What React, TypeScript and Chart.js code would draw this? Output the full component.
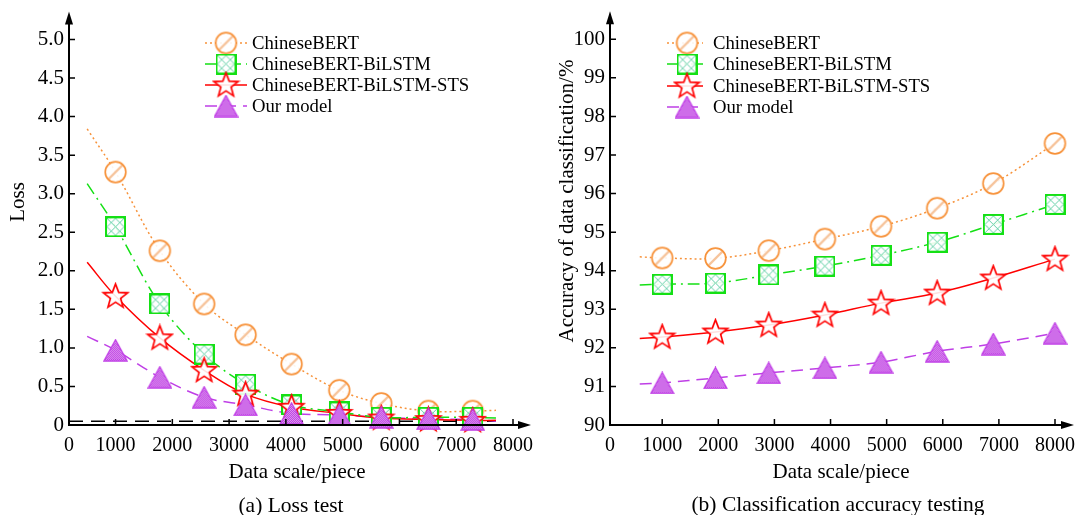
import React, { useEffect, useRef } from 'react';
import { Chart, registerables } from 'chart.js';
Chart.register(...registerables);

// ---------- data ----------
const seriesNames = ['ChineseBERT', 'ChineseBERT-BiLSTM', 'ChineseBERT-BiLSTM-STS', 'Our model'];
const xTickValues = [1000, 2000, 3000, 4000, 5000, 6000, 7000, 8000];

// (a) Loss test
const lossX = [1000, 1780, 2560, 3290, 4100, 4940, 5680, 6510, 7290];
const lossBert = [3.28, 2.26, 1.57, 1.17, 0.79, 0.45, 0.28, 0.18, 0.18];
const lossBiLSTM = [2.57, 1.57, 0.92, 0.53, 0.26, 0.17, 0.1, 0.1, 0.1];
const lossSTS = [1.67, 1.13, 0.71, 0.4, 0.23, 0.15, 0.09, 0.07, 0.06];
const lossOurs = [0.97, 0.62, 0.36, 0.26, 0.15, 0.13, 0.1, 0.08, 0.07];
const lossLineStartX = 500;
const lossLineStart = [3.84, 3.13, 2.11, 1.15];
const lossLineEndX = [7700, 7700, 7700, 7700];
const lossLineEnd = [0.19, 0.09, 0.06, 0.05];
const lossBaselineX = [180, 7700];
const lossBaselineY = [0.05, 0.05];
const lossYTicks = [0, 0.5, 1.0, 1.5, 2.0, 2.5, 3.0, 3.5, 4.0, 4.5, 5.0];

// (b) Classification accuracy testing
const accX = [1000, 1950, 2900, 3900, 4900, 5900, 6900, 8000];
const accBert = [94.33, 94.32, 94.52, 94.82, 95.15, 95.62, 96.26, 97.3];
const accBiLSTM = [93.65, 93.68, 93.89, 94.12, 94.4, 94.74, 95.2, 95.72];
const accSTS = [92.28, 92.41, 92.59, 92.85, 93.16, 93.42, 93.81, 94.3];
const accOurs = [91.09, 91.22, 91.35, 91.48, 91.63, 91.91, 92.1, 92.38];
const accLineStartX = 600;
const accLineStart = [94.36, 93.63, 92.24, 91.06];
const accLineEndX: (number | null)[] = [null, null, 8300, 8250];
const accLineEnd: (number | null)[] = [null, null, 94.42, 92.45];
const accYTicks = [90, 91, 92, 93, 94, 95, 96, 97, 98, 99, 100];

// ---------- styles ----------
const FONT = '"Liberation Serif", "Times New Roman", serif';
const COLORS = ['#f7923a', '#14e014', '#ff0000', '#bf3fe6'];
const DASHES = [[2, 3], [12, 5, 2, 5], [], [12, 7]];

function makeMarker(kind: string): HTMLCanvasElement {
  const c = document.createElement('canvas');
  if (kind === 'circle') {
    c.width = 25; c.height = 25;
    const ctx = c.getContext('2d')!;
    ctx.save();
    ctx.beginPath(); ctx.arc(12.5, 12.5, 10.3, 0, Math.PI * 2);
    ctx.fillStyle = 'rgba(255,255,255,0.9)'; ctx.fill(); ctx.clip();
    ctx.strokeStyle = '#f6c39a'; ctx.lineWidth = 2.4;
    ctx.beginPath(); ctx.moveTo(4, 21); ctx.lineTo(21, 4); ctx.stroke();
    ctx.restore();
    ctx.strokeStyle = COLORS[0]; ctx.lineWidth = 1.7;
    ctx.beginPath(); ctx.arc(12.5, 12.5, 10.3, 0, Math.PI * 2); ctx.stroke();
  } else if (kind === 'square') {
    c.width = 21; c.height = 21;
    const ctx = c.getContext('2d')!;
    ctx.fillStyle = 'rgba(255,255,255,0.9)'; ctx.fillRect(1, 1, 19, 19);
    ctx.strokeStyle = '#62cfa6'; ctx.lineWidth = 1;
    ctx.beginPath();
    ctx.moveTo(10.5, 2); ctx.lineTo(19, 10.5); ctx.lineTo(10.5, 19); ctx.lineTo(2, 10.5); ctx.closePath();
    ctx.moveTo(2, 2); ctx.lineTo(19, 19); ctx.moveTo(19, 2); ctx.lineTo(2, 19);
    ctx.stroke();
    ctx.strokeStyle = COLORS[1]; ctx.lineWidth = 2;
    ctx.strokeRect(1, 1, 19, 19);
  } else if (kind === 'star') {
    c.width = 29; c.height = 29;
    const ctx = c.getContext('2d')!;
    const cx = 14.5, cy = 15, R = 12.8, r = 5.4;
    ctx.beginPath();
    for (let k = 0; k < 10; k++) {
      const ang = -Math.PI / 2 + (k * Math.PI) / 5;
      const rr = k % 2 === 0 ? R : r;
      const px = cx + rr * Math.cos(ang), py = cy + rr * Math.sin(ang);
      if (k === 0) ctx.moveTo(px, py); else ctx.lineTo(px, py);
    }
    ctx.closePath();
    ctx.fillStyle = 'rgba(255,255,255,0.88)'; ctx.fill();
    ctx.strokeStyle = COLORS[2]; ctx.lineWidth = 1.7; ctx.stroke();
  } else {
    c.width = 25; c.height = 23;
    const ctx = c.getContext('2d')!;
    const p = document.createElement('canvas');
    p.width = 2; p.height = 2;
    const pc = p.getContext('2d')!;
    pc.fillStyle = '#e4a6f3'; pc.fillRect(0, 0, 2, 2);
    pc.fillStyle = '#b934e0'; pc.fillRect(0, 0, 1, 1); pc.fillRect(1, 1, 1, 1);
    const pat = ctx.createPattern(p, 'repeat')!;
    ctx.beginPath(); ctx.moveTo(12.5, 1); ctx.lineTo(24, 22); ctx.lineTo(1, 22); ctx.closePath();
    ctx.fillStyle = pat; ctx.fill();
    ctx.strokeStyle = '#c03ee6'; ctx.lineWidth = 1.3; ctx.stroke();
  }
  return c;
}

interface Setup {
  xs: number[];
  series: number[][];
  lineStartX: number;
  lineStart: number[];
  lineEndX: (number | null)[];
  lineEnd: (number | null)[];
  xMin: number;
  xMax: number;
  yMin: number;
  yMax: number;
  yTicks: number[];
  yFmt: (v: number) => string;
  padTop: number;
  padRight: number;
  yWidth: number;
  legend: { line0: number; line1: number; mx: number; tx: number; ys: number[] };
  yTitle: string;
  yTitlePos: [number, number];
  xTitlePos: [number, number];
  caption: string;
  captionPos: [number, number];
  arrowExtra: number;
  extra: any[];
}

function buildConfig(s: Setup, markers: HTMLCanvasElement[]): any {
  const datasets: any[] = [...s.extra];
  s.series.forEach((vals, i) => {
    const pts = s.xs.map((x, j) => ({ x, y: vals[j] }));
    const linePts = [{ x: s.lineStartX, y: s.lineStart[i] }, ...pts];
    const ex = s.lineEndX[i];
    const ey = s.lineEnd[i];
    if (ex != null && ey != null) linePts.push({ x: ex, y: ey });
    datasets.push({
      label: seriesNames[i] + ' fit',
      data: linePts,
      borderColor: COLORS[i],
      borderDash: DASHES[i],
      borderWidth: 1.5,
      pointRadius: 0,
      tension: 0.35,
      fill: false,
      clip: false,
      order: 10 + i,
    });
    datasets.push({
      label: seriesNames[i],
      data: pts,
      showLine: false,
      pointStyle: markers[i],
      pointRadius: 11,
      clip: false,
      order: 3 - i,
    });
  });

  const decor = {
    id: 'decor',
    afterDraw(chart: any) {
      const { ctx, chartArea: a, scales } = chart;
      const xs = scales.x, ys = scales.y;
      ctx.save();
      ctx.strokeStyle = '#000';
      ctx.fillStyle = '#000';
      ctx.lineWidth = 2;
      ctx.setLineDash([]);
      // y axis + arrow
      ctx.beginPath(); ctx.moveTo(a.left, a.bottom + 1); ctx.lineTo(a.left, a.top - 18); ctx.stroke();
      ctx.beginPath(); ctx.moveTo(a.left, a.top - 28); ctx.lineTo(a.left - 4, a.top - 15); ctx.lineTo(a.left + 4, a.top - 15); ctx.closePath(); ctx.fill();
      // x axis + arrow
      ctx.beginPath(); ctx.moveTo(a.left - 1, a.bottom); ctx.lineTo(a.right + s.arrowExtra - 8, a.bottom); ctx.stroke();
      ctx.beginPath(); ctx.moveTo(a.right + s.arrowExtra, a.bottom); ctx.lineTo(a.right + s.arrowExtra - 13, a.bottom - 4); ctx.lineTo(a.right + s.arrowExtra - 13, a.bottom + 4); ctx.closePath(); ctx.fill();
      // tick marks
      ctx.lineWidth = 1.5;
      ctx.beginPath();
      xTickValues.forEach((v) => {
        const px = xs.getPixelForValue(v);
        ctx.moveTo(px, a.bottom); ctx.lineTo(px, a.bottom - 6);
      });
      s.yTicks.forEach((v) => {
        if (v === s.yMin) return;
        const py = ys.getPixelForValue(v);
        ctx.moveTo(a.left, py); ctx.lineTo(a.left + 6, py);
      });
      ctx.stroke();
      // titles
      ctx.fillStyle = '#000';
      ctx.textAlign = 'center';
      ctx.textBaseline = 'middle';
      ctx.font = `21px ${FONT}`;
      ctx.save();
      ctx.translate(s.yTitlePos[0], s.yTitlePos[1]);
      ctx.rotate(-Math.PI / 2);
      ctx.fillText(s.yTitle, 0, 0);
      ctx.restore();
      ctx.fillText('Data scale/piece', s.xTitlePos[0], s.xTitlePos[1]);
      ctx.font = `21.5px ${FONT}`;
      ctx.fillText(s.caption, s.captionPos[0], s.captionPos[1]);
      // legend
      const L = s.legend;
      ctx.textAlign = 'left';
      ctx.font = `18.7px ${FONT}`;
      seriesNames.forEach((name, i) => {
        const y = L.ys[i];
        ctx.strokeStyle = COLORS[i];
        ctx.lineWidth = 1.5;
        ctx.setLineDash(DASHES[i]);
        ctx.beginPath(); ctx.moveTo(L.line0, y); ctx.lineTo(L.line1, y); ctx.stroke();
        ctx.setLineDash([]);
        const m = markers[i];
        ctx.drawImage(m, L.mx - m.width / 2, y - m.height / 2);
        ctx.fillStyle = '#000';
        ctx.fillText(name, L.tx, y + 1);
      });
      ctx.restore();
    },
  };

  return {
    type: 'line',
    data: { datasets },
    options: {
      animation: false,
      responsive: false,
      devicePixelRatio: 1,
      events: [],
      layout: { padding: { top: s.padTop, right: s.padRight, left: 0, bottom: 0 } },
      plugins: { legend: { display: false }, tooltip: { enabled: false } },
      scales: {
        x: {
          type: 'linear',
          min: s.xMin,
          max: s.xMax,
          grid: { display: false, drawTicks: false },
          border: { display: false },
          afterBuildTicks: (sc: any) => {
            sc.ticks = [s.xMin, ...xTickValues].map((v) => ({ value: v }));
          },
          afterFit: (sc: any) => { sc.height = 90; },
          ticks: {
            autoSkip: false,
            maxRotation: 0,
            padding: 9,
            color: '#000',
            font: { family: FONT, size: 20 },
            callback: (v: number) => (v === s.xMin ? '0' : String(v)),
          },
        },
        y: {
          type: 'linear',
          min: s.yMin,
          max: s.yMax,
          grid: { display: false, drawTicks: false },
          border: { display: false },
          afterBuildTicks: (sc: any) => {
            sc.ticks = s.yTicks.map((v) => ({ value: v }));
          },
          afterFit: (sc: any) => { sc.width = s.yWidth; },
          ticks: {
            autoSkip: false,
            padding: 5,
            color: '#000',
            font: { family: FONT, size: 21 },
            callback: (v: number) => s.yFmt(v),
          },
        },
      },
    },
    plugins: [decor],
  };
}

export default function App() {
  const leftRef = useRef<HTMLCanvasElement>(null);
  const rightRef = useRef<HTMLCanvasElement>(null);

  useEffect(() => {
    const markers = [makeMarker('circle'), makeMarker('square'), makeMarker('star'), makeMarker('triangle')];

    const lossSetup: Setup = {
      xs: lossX,
      series: [lossBert, lossBiLSTM, lossSTS, lossOurs],
      lineStartX: lossLineStartX,
      lineStart: lossLineStart,
      lineEndX: lossLineEndX,
      lineEnd: lossLineEnd,
      xMin: 180,
      xMax: 8000,
      yMin: 0,
      yMax: 5.0,
      yTicks: lossYTicks,
      yFmt: (v) => (v === 0 ? '0' : v.toFixed(1)),
      padTop: 39.5,
      padRight: 25,
      yWidth: 69,
      legend: { line0: 205, line1: 247, mx: 226, tx: 252, ys: [43, 64, 85, 106] },
      yTitle: 'Loss',
      yTitlePos: [18, 202],
      xTitlePos: [297, 472],
      caption: '(a) Loss test',
      captionPos: [291, 506],
      arrowExtra: 18,
      extra: [
        {
          label: 'baseline',
          data: lossBaselineX.map((x, j) => ({ x, y: lossBaselineY[j] })),
          borderColor: '#000',
          borderDash: [14, 8],
          borderWidth: 1.5,
          pointRadius: 0,
          fill: false,
          order: 30,
        },
      ],
    };

    const accSetup: Setup = {
      xs: accX,
      series: [accBert, accBiLSTM, accSTS, accOurs],
      lineStartX: accLineStartX,
      lineStart: accLineStart,
      lineEndX: accLineEndX,
      lineEnd: accLineEnd,
      xMin: 70,
      xMax: 8000,
      yMin: 90,
      yMax: 100,
      yTicks: accYTicks,
      yFmt: (v) => String(v),
      padTop: 39.3,
      padRight: 21,
      yWidth: 68,
      legend: { line0: 125, line1: 161, mx: 145, tx: 171, ys: [43, 64, 86, 107] },
      yTitle: 'Accuracy of data classification/%',
      yTitlePos: [25, 201],
      xTitlePos: [299, 472],
      caption: '(b) Classification accuracy testing',
      captionPos: [296, 505],
      arrowExtra: 19,
      extra: [],
    };

    const c1 = new Chart(leftRef.current!, buildConfig(lossSetup, markers));
    const c2 = new Chart(rightRef.current!, buildConfig(accSetup, markers));
    return () => {
      c1.destroy();
      c2.destroy();
    };
  }, []);

  return (
    <div style={{ position: 'absolute', left: 0, top: 0, width: 1084, height: 515, background: '#fff', overflow: 'hidden' }}>
      <canvas ref={leftRef} width={542} height={515} style={{ position: 'absolute', left: 0, top: 0, width: 542, height: 515 }} />
      <canvas ref={rightRef} width={542} height={515} style={{ position: 'absolute', left: 542, top: 0, width: 542, height: 515 }} />
    </div>
  );
}
